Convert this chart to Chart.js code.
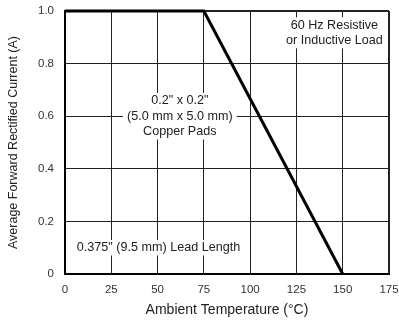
<!DOCTYPE html>
<html>
<head>
<meta charset="utf-8">
<script src="https://cdn.jsdelivr.net/npm/chart.js@4/dist/chart.umd.min.js"></script>
<style>
  html, body { margin: 0; padding: 0; background: #fff; }
  #wrap { width: 399px; height: 320px; }
</style>
</head>
<body>
<div id="wrap"><canvas id="derating"></canvas></div>
<script>
// derating curve: full current up to 75 C, then linear down to zero at 150 C
var temps = [0, 75, 150];
var current = [1.0, 1.0, 0];
var xTicks = [0, 25, 50, 75, 100, 125, 150, 175];
var yTicks = [0, 0.2, 0.4, 0.6, 0.8, 1.0];

// text notes placed in data coordinates
var notes = [
  { x: 62, y: 0.6, lines: ['0.2" x 0.2"', '(5.0 mm x 5.0 mm)', 'Copper Pads'] },
  { x: 145.5, y: 0.917, lines: ['60 Hz Resistive', 'or Inductive Load'] },
  { x: 50.5, y: 0.1, lines: ['0.375" (9.5 mm) Lead Length'] }
];

var FONT = '"Liberation Sans", Arial, sans-serif';

var notesPlugin = {
  id: 'notes',
  beforeDatasetsDraw: function (chart) {
    var c = chart.ctx, xs = chart.scales.x, ys = chart.scales.y;
    var lh = 15.5;
    c.save();
    c.font = '12.6px ' + FONT;
    c.textAlign = 'center';
    c.textBaseline = 'middle';
    notes.forEach(function (n) {
      var cx = xs.getPixelForValue(n.x);
      var cy = ys.getPixelForValue(n.y);
      var top = cy - (n.lines.length - 1) * lh / 2;
      n.lines.forEach(function (t, i) {
        var w = c.measureText(t).width;
        c.fillStyle = '#fff';
        c.fillRect(cx - w / 2 - 4, top + i * lh - lh / 2, w + 8, lh);
      });
      c.fillStyle = '#222';
      n.lines.forEach(function (t, i) {
        c.fillText(t, cx, top + i * lh);
      });
    });
    c.restore();
  }
};

new Chart(document.getElementById('derating'), {
  type: 'line',
  data: {
    datasets: [{
      data: temps.map(function (t, i) { return { x: t, y: current[i] }; }),
      borderColor: '#000',
      borderWidth: 3,
      pointRadius: 0,
      tension: 0,
      clip: 4
    }]
  },
  options: {
    responsive: true,
    maintainAspectRatio: false,
    animation: false,
    layout: { padding: { left: 0, right: 10, top: 11, bottom: 0 } },
    plugins: { legend: { display: false }, tooltip: { enabled: false } },
    scales: {
      x: {
        type: 'linear',
        min: 0,
        max: 175,
        afterBuildTicks: function (s) { s.ticks = xTicks.map(function (v) { return { value: v }; }); },
        afterFit: function (s) { s.height = 46; s.paddingLeft = 0; s.paddingRight = 0; },
        ticks: { color: '#333', font: { family: FONT, size: 11.5 }, padding: 9, maxRotation: 0 },
        grid: {
          drawTicks: false,
          color: '#222',
          lineWidth: function (ctx) { return ctx.index === xTicks.length - 1 ? 2 : 1; }
        },
        border: { color: '#000', width: 2 },
        title: {
          display: true,
          text: 'Ambient Temperature (°C)',
          color: '#222',
          font: { family: FONT, size: 14 },
          padding: { top: 4, bottom: 1 }
        }
      },
      y: {
        min: 0,
        max: 1,
        afterBuildTicks: function (s) { s.ticks = yTicks.map(function (v) { return { value: v }; }); },
        afterFit: function (s) { s.width = 65; s.paddingTop = 0; s.paddingBottom = 0; },
        ticks: {
          color: '#333',
          font: { family: FONT, size: 11.5 },
          padding: 11,
          callback: function (v) { return v === 0 ? '0' : v.toFixed(1); }
        },
        grid: {
          drawTicks: false,
          color: '#222',
          lineWidth: function (ctx) { return ctx.index === yTicks.length - 1 ? 2 : 1; }
        },
        border: { color: '#000', width: 2 },
        title: {
          display: true,
          text: 'Average Forward Rectified Current (A)',
          color: '#222',
          font: { family: FONT, size: 12.5 },
          padding: { top: 6, bottom: 4 }
        }
      }
    }
  },
  plugins: [notesPlugin]
});
</script>
</body>
</html>
